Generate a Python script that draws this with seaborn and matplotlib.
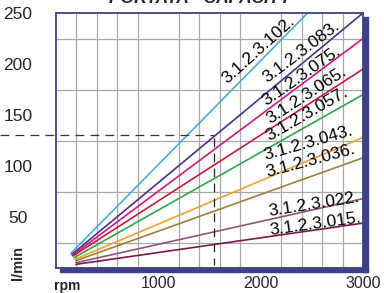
import matplotlib
matplotlib.use("Agg")
import matplotlib.pyplot as plt
from matplotlib.patches import Rectangle
import seaborn as sns
import pandas as pd

# series: start / end points of each pump line
series = ['3.1.2.3.102.', '3.1.2.3.083.', '3.1.2.3.075.', '3.1.2.3.065.', '3.1.2.3.057.',
          '3.1.2.3.043.', '3.1.2.3.036.', '3.1.2.3.022.', '3.1.2.3.015.']
rpm_start = [150, 160, 165, 170, 180, 190, 200, 200, 200]
flow_start = [14.4, 13.4, 12.4, 11.8, 10.1, 8.5, 7.2, 5.2, 3.6]
rpm_end = [2460, 3000, 3000, 3000, 3000, 3000, 3000, 3000, 3000]
flow_end = [250, 250, 225, 195, 170, 128, 108, 68, 44]
colors = ['#45ade3', '#4a2f8c', '#d3177f', '#d4163e', '#2ea84c',
          '#efa12e', '#9f7f3a', '#8b5878', '#7b1650']

# label anchor points (rpm, l/min) and angles
label_rpm = [1985, 2395, 2395, 2444, 2454, 2463, 2493, 2522, 2532]
label_flow = [214, 212, 188, 169, 151, 123, 105, 62, 43]
label_rot = [42, 37, 35, 33, 30, 16, 15, 9, 8]

# working point marked with dashes
ref_rpm = 1550
ref_flow = 130

xticks = [1000, 2000, 3000]
yticks = [50, 100, 150, 200, 250]

rows = []
for name, x0, y0, x1, y1 in zip(series, rpm_start, flow_start, rpm_end, flow_end):
    rows.append({'rpm': x0, 'flow': y0, 'pump': name})
    rows.append({'rpm': x1, 'flow': y1, 'pump': name})
df = pd.DataFrame(rows)

sns.set_style('white')
plt.rcParams['font.family'] = ['Liberation Sans', 'DejaVu Sans']

navy = '#3c4187'
fig = plt.figure(figsize=(3.84, 2.93), dpi=100)
ax = fig.add_axes([55.5 / 384, 25 / 293, 307.5 / 384, 255 / 293])

sns.lineplot(data=df, x='rpm', y='flow', hue='pump', hue_order=series,
             palette=dict(zip(series, colors)), linewidth=1.2, legend=False,
             estimator=None, ax=ax)

ax.set_xlim(0, 3000)
ax.set_ylim(0, 250)
ax.set_xticks(range(200, 3000, 200), minor=True)
ax.set_yticks(range(25, 250, 25), minor=True)
ax.grid(which='minor', color='#a8a8a8', linewidth=0.9)
ax.set_axisbelow(True)
ax.tick_params(which='both', length=0)

ax.set_xticks(xticks)
ax.set_xticklabels([str(t) for t in xticks], fontsize=11.5)
ax.tick_params(axis='x', pad=6)
ax.set_yticks(yticks)
ax.set_yticklabels([str(t) for t in yticks], fontsize=12.5)
for lab in ax.get_yticklabels():
    lab.set_horizontalalignment('center')
ax.tick_params(axis='y', pad=27)
ax.set_xlabel('')
ax.set_ylabel('')

for s in ['left', 'top', 'right', 'bottom']:
    ax.spines[s].set_color(navy)
    ax.spines[s].set_linewidth(1.3)

# drop shadow on right and bottom of the frame
ax.add_patch(Rectangle((1.0, -0.0157), 0.017, 1.0, transform=ax.transAxes,
                       color=navy, clip_on=False, zorder=5))
ax.add_patch(Rectangle((0.0146, -0.0157), 1.0024, 0.0157, transform=ax.transAxes,
                       color=navy, clip_on=False, zorder=5))

for name, x, y, r in zip(series, label_rpm, label_flow, label_rot):
    ax.text(x, y, name, rotation=r, rotation_mode='anchor', ha='center', va='center',
            fontsize=12.5, color='black')

ax.plot([-545, ref_rpm], [ref_flow, ref_flow], color='#333333', linewidth=0.9,
        dashes=(7, 5), clip_on=False)
ax.plot([ref_rpm, ref_rpm], [ref_flow - 3, 3], color='#222222', linewidth=0.9,
        dashes=(7, 5))

fig.text(67 / 384, 7 / 293, 'rpm', ha='center', va='center', fontsize=10, fontweight='bold')
fig.text(18 / 384, 1 - 263 / 293, 'l/min', ha='center', va='center', rotation=90,
         fontsize=10.5, fontweight='bold')
fig.text(200 / 384, 1 - 3 / 293, 'PORTATA - CAPACITY', ha='center', va='baseline',
         fontsize=12.5, fontweight='bold', fontstyle='italic')

fig.savefig('out.png', dpi=100)
